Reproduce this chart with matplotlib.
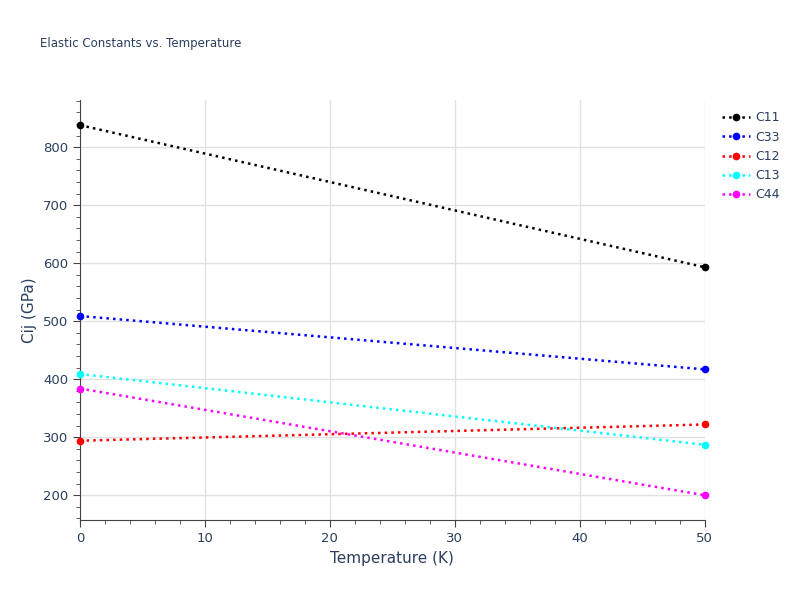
import matplotlib.pyplot as plt
from matplotlib.ticker import MultipleLocator

temperature = [0, 50]
names = ["C11", "C33", "C12", "C13", "C44"]
values = {
    "C11": [838, 593],
    "C33": [509, 417],
    "C12": [294, 322],
    "C13": [409, 287],
    "C44": [384, 200],
}
colors = ["black", "blue", "red", "cyan", "magenta"]

fig = plt.figure(figsize=(8, 6), dpi=100)
ax = fig.add_axes([0.1, 0.133, 0.781, 0.7])

for name, c in zip(names, colors):
    ax.plot(temperature, values[name], linestyle=":", linewidth=1.8, color=c,
            marker="o", markersize=4.5, label=name, clip_on=False, zorder=3)

ax.set_xlim(0, 50)
ax.set_ylim(157, 881)
ax.xaxis.set_major_locator(MultipleLocator(10))
ax.xaxis.set_minor_locator(MultipleLocator(2))
ax.yaxis.set_major_locator(MultipleLocator(100))
ax.yaxis.set_minor_locator(MultipleLocator(20))
ax.grid(True, which="major", color="#e1e1e1", linewidth=1)
ax.set_axisbelow(True)
for s in ["top", "right"]:
    ax.spines[s].set_visible(False)
for s in ["left", "bottom"]:
    ax.spines[s].set_color("#444444")
ax.tick_params(which="major", length=5, color="#444444", labelcolor="#2a3f5f", labelsize=9.5)
ax.tick_params(which="minor", length=3, color="#444444")

ax.set_xlabel("Temperature (K)", color="#2a3f5f", fontsize=11)
ax.set_ylabel("Cij (GPa)", color="#2a3f5f", fontsize=11)
fig.text(0.05, 0.922, "Elastic Constants vs. Temperature", color="#2a3f5f", fontsize=8.5)

leg = ax.legend(loc="upper left", bbox_to_anchor=(1.01, 1.0), frameon=False,
                fontsize=9, labelcolor="#2a3f5f", handlelength=2.2, handletextpad=0.4)

fig.savefig("out.png", dpi=100)
